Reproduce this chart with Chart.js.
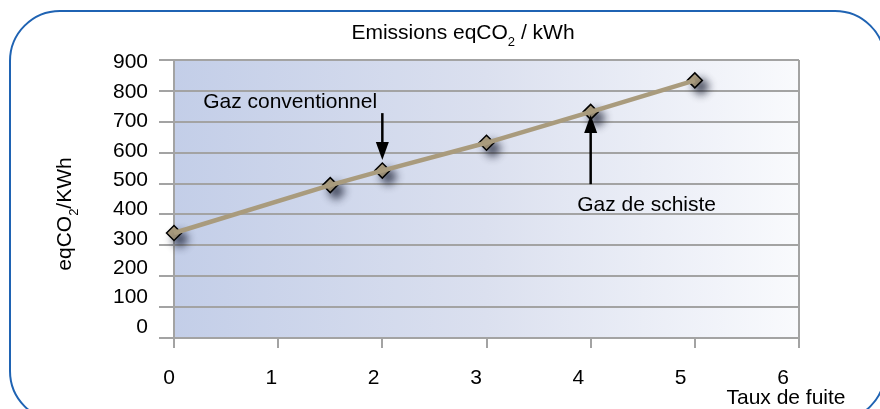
<!DOCTYPE html>
<html lang="fr">
<head>
<meta charset="utf-8">
<title>Emissions eqCO2 / kWh</title>
<script src="https://cdn.jsdelivr.net/npm/chart.js@4/dist/chart.umd.min.js"></script>
<style>
    html, body { margin: 0; padding: 0; background: #fff; }
    #wrap { width: 880px; height: 409px; }
</style>
</head>
<body>
<div id="wrap"><canvas id="emissionsChart" width="880" height="409"></canvas></div>
<script>
// Values
const leakRates = [0, 1.5, 2, 3, 4, 5];               // Taux de fuite
const emissions = [340, 495, 542, 632, 732, 834];     // eqCO2 / kWh
const xTicks = [0, 1, 2, 3, 4, 5, 6];
const yTicks = [0, 100, 200, 300, 400, 500, 600, 700, 800, 900];

// Texts (subscript parts flagged with sub: true)
const titleParts = [{ t: 'Emissions eqCO' }, { t: '2', sub: true }, { t: ' / kWh' }];
const yTitleParts = [{ t: 'eqCO' }, { t: '2', sub: true }, { t: '/KWh' }];
const xTitle = 'Taux de fuite';

// Callouts, in data units
const callouts = [
    { text: 'Gaz conventionnel', textX: 0.28, textY: 764, arrowX: 2, from: 728, to: 576 },
    { text: 'Gaz de schiste', textX: 3.87, textY: 430, arrowX: 4, from: 498, to: 722 }
];

const FONT = '"Liberation Sans", Arial, sans-serif';
const FONT_SIZE = 21;
const GRID = '#a3a3a3';
const LINE = '#a99b7d';

class EmissionsChart {
    constructor(canvasId) {
        this.canvas = document.getElementById(canvasId);
        this.chart = null;
        this.init();
    }

    init() {
        Chart.defaults.font.family = FONT;
        Chart.defaults.font.size = FONT_SIZE;
        Chart.defaults.color = '#000';
        this.chart = new Chart(this.canvas.getContext('2d'), this.buildConfig());
    }

    drawParts(ctx, parts, x, y) {
        // centred run of text with optional subscripts
        let total = 0;
        parts.forEach(p => {
            ctx.font = `${p.sub ? 13 : FONT_SIZE}px ${FONT}`;
            p.w = ctx.measureText(p.t).width;
            total += p.w;
        });
        let cx = x - total / 2;
        ctx.textAlign = 'left';
        ctx.textBaseline = 'middle';
        parts.forEach(p => {
            ctx.font = `${p.sub ? 13 : FONT_SIZE}px ${FONT}`;
            ctx.fillText(p.t, cx, y + (p.sub ? 9 : 0));
            cx += p.w;
        });
    }

    roundRect(ctx, x0, y0, x1, y1, r) {
        ctx.beginPath();
        ctx.moveTo(x0 + r, y0);
        ctx.arcTo(x1, y0, x1, y1, r);
        ctx.arcTo(x1, y1, x0, y1, r);
        ctx.arcTo(x0, y1, x0, y0, r);
        ctx.arcTo(x0, y0, x1, y0, r);
        ctx.closePath();
    }

    buildPlugins() {
        const self = this;
        return [{
            id: 'frameAndBackground',
            beforeDraw(chart) {
                const { ctx, chartArea: { left, top, right, bottom } } = chart;
                ctx.save();
                ctx.fillStyle = '#fff';
                ctx.fillRect(0, 0, chart.width, chart.height);
                self.roundRect(ctx, 10, 11, 885, 421, 50);
                ctx.strokeStyle = '#1f63b3';
                ctx.lineWidth = 2;
                ctx.stroke();

                const grad = ctx.createLinearGradient(left, 0, right, 0);
                grad.addColorStop(0, '#c3cee8');
                grad.addColorStop(0.5, '#dbe0ef');
                grad.addColorStop(1, '#f9fafd');
                ctx.fillStyle = grad;
                ctx.fillRect(left, top, right - left, bottom - top);
                ctx.restore();
            }
        }, {
            id: 'markerShadow',
            beforeDatasetDraw(chart, args) {
                if (args.index !== 1) return;
                const ctx = chart.ctx;
                ctx.save();
                ctx.shadowColor = 'rgba(15, 20, 40, 0.8)';
                ctx.shadowBlur = 8;
                ctx.shadowOffsetX = 6;
                ctx.shadowOffsetY = 6;
            },
            afterDatasetDraw(chart, args) {
                if (args.index === 1) chart.ctx.restore();
            }
        }, {
            id: 'texts',
            afterDraw(chart) {
                const { ctx, scales: { x, y } } = chart;
                ctx.save();
                ctx.fillStyle = '#000';

                // titles
                self.drawParts(ctx, titleParts, 463, 33);
                ctx.save();
                ctx.translate(65, 214);
                ctx.rotate(-Math.PI / 2);
                self.drawParts(ctx, yTitleParts, 0, 0);
                ctx.restore();
                ctx.font = `${FONT_SIZE}px ${FONT}`;
                ctx.textAlign = 'center';
                ctx.textBaseline = 'middle';
                ctx.fillText(xTitle, 786, 398);

                // callouts
                callouts.forEach(c => {
                    const ax = x.getPixelForValue(c.arrowX);
                    const y0 = y.getPixelForValue(c.from);
                    const y1 = y.getPixelForValue(c.to);
                    const dir = y1 > y0 ? 1 : -1;
                    const headLen = 18, headHalf = 6.5;
                    ctx.strokeStyle = '#000';
                    ctx.lineWidth = 2.5;
                    ctx.beginPath();
                    ctx.moveTo(ax, y0);
                    ctx.lineTo(ax, y1 - dir * headLen);
                    ctx.stroke();
                    ctx.beginPath();
                    ctx.moveTo(ax, y1);
                    ctx.lineTo(ax - headHalf, y1 - dir * headLen);
                    ctx.lineTo(ax + headHalf, y1 - dir * headLen);
                    ctx.closePath();
                    ctx.fill();

                    ctx.font = `${FONT_SIZE}px ${FONT}`;
                    ctx.textAlign = 'left';
                    ctx.textBaseline = 'middle';
                    ctx.fillText(c.text, x.getPixelForValue(c.textX), y.getPixelForValue(c.textY));
                });
                ctx.restore();
            }
        }];
    }

    buildConfig() {
        const points = leakRates.map((v, i) => ({ x: v, y: emissions[i] }));
        const setTicks = list => scale => { scale.ticks = list.map(v => ({ value: v })); };

        return {
            type: 'scatter',
            data: {
                datasets: [{
                    data: points,
                    showLine: true,
                    borderColor: LINE,
                    borderWidth: 4.5,
                    pointRadius: 0,
                    tension: 0,
                    clip: false
                }, {
                    data: points,
                    showLine: false,
                    pointStyle: 'rectRot',
                    pointRadius: 7.5,
                    backgroundColor: '#ad9e80',
                    borderColor: '#000',
                    borderWidth: 1.5,
                    clip: false
                }]
            },
            options: {
                responsive: false,
                animation: false,
                events: [],
                layout: { padding: { top: 60, right: 81, left: 0, bottom: 0 } },
                plugins: {
                    legend: { display: false },
                    tooltip: { enabled: false },
                    title: { display: false }
                },
                scales: {
                    x: {
                        type: 'linear', position: 'bottom', weight: 0, min: 0, max: 6,
                        afterBuildTicks: setTicks(xTicks),
                        ticks: { display: false },
                        grid: {
                            color: c => (c.tick && (c.tick.value === 0 || c.tick.value === 6)) ? GRID : 'rgba(0,0,0,0)',
                            tickColor: GRID, lineWidth: 2, tickLength: 10
                        },
                        border: { display: false },
                        afterFit: s => { s.height = 10; }
                    },
                    xText: {
                        type: 'linear', position: 'bottom', weight: 1, min: 0.049, max: 6.156,
                        afterBuildTicks: setTicks(xTicks),
                        ticks: { padding: 18, autoSkip: false, maxRotation: 0, callback: v => String(v) },
                        grid: { display: false, drawTicks: false },
                        border: { display: false },
                        afterFit: s => { s.height = 61; }
                    },
                    y: {
                        type: 'linear', position: 'left', weight: 0, min: 0, max: 900,
                        afterBuildTicks: setTicks(yTicks),
                        ticks: { display: false },
                        grid: { color: GRID, lineWidth: 2, tickLength: 15 },
                        border: { display: true, color: GRID, width: 2 },
                        afterFit: s => { s.width = 15; }
                    },
                    yText: {
                        type: 'linear', position: 'left', weight: 1, min: -37.5, max: 909.2,
                        afterBuildTicks: setTicks(yTicks),
                        ticks: { padding: 11, autoSkip: false, callback: v => String(v) },
                        grid: { display: false, drawTicks: false },
                        border: { display: false },
                        afterFit: s => { s.width = 159; }
                    }
                }
            },
            plugins: this.buildPlugins()
        };
    }
}

document.addEventListener('DOMContentLoaded', () => {
    new EmissionsChart('emissionsChart');
});
</script>
</body>
</html>
